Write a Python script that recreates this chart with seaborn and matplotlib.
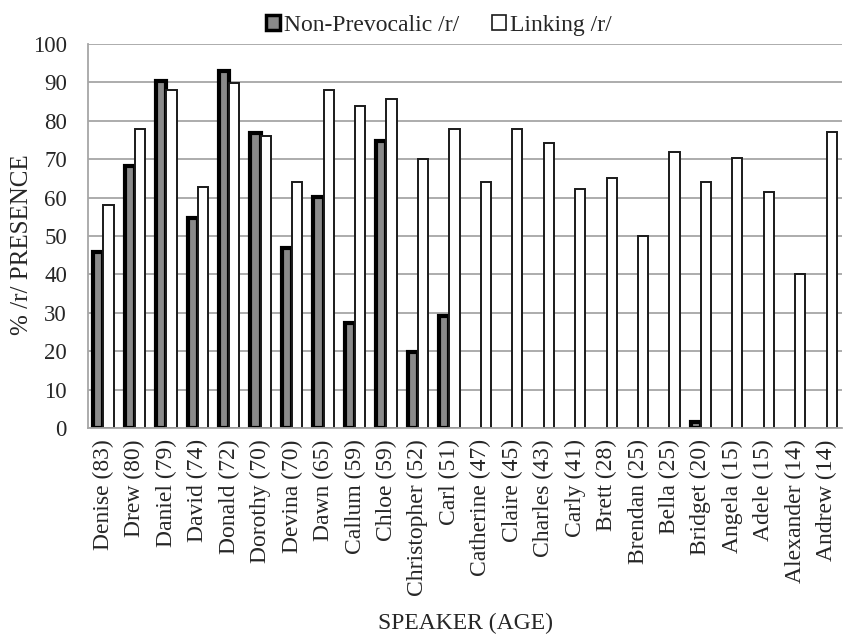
import pandas as pd
import matplotlib.pyplot as plt
import seaborn as sns
from matplotlib.patches import Patch

# données
speakers = ["Denise (83)", "Drew (80)", "Daniel (79)", "David (74)", "Donald (72)",
            "Dorothy (70)", "Devina (70)", "Dawn (65)", "Callum (59)", "Chloe (59)",
            "Christopher (52)", "Carl (51)", "Catherine (47)", "Claire (45)",
            "Charles (43)", "Carly (41)", "Brett (28)", "Brendan (25)", "Bella (25)",
            "Bridget (20)", "Angela (15)", "Adele (15)", "Alexander (14)", "Andrew (14)"]
non_prevocalic = [45.8, 68.2, 90.4, 54.8, 93.0, 76.9, 46.9, 60.2, 27.4, 74.7,
                  19.9, 29.3, 0, 0, 0, 0, 0, 0, 0, 1.5, 0, 0, 0, 0]
linking = [58.1, 78.0, 88.0, 62.9, 89.9, 76.0, 64.0, 88.0, 83.9, 85.8,
           70.0, 77.9, 64.0, 78.0, 74.1, 62.2, 65.2, 50.0, 71.9, 64.0,
           70.4, 61.4, 40.0, 77.2]
series = ["Non-Prevocalic /r/", "Linking /r/"]

df = pd.DataFrame({
    "speaker": speakers * 2,
    "value": non_prevocalic + linking,
    "series": [series[0]] * len(speakers) + [series[1]] * len(speakers),
})

sns.set_style("white")
plt.rcParams["font.family"] = ["Liberation Serif", "DejaVu Serif"]
fs = 17

fig = plt.figure(figsize=(8.44, 6.38), dpi=100)
ax = fig.add_axes([0.104, 0.329, 0.894, 0.602])

sns.barplot(data=df, x="speaker", y="value", hue="series", hue_order=series,
            palette=["#8a8a8a", "white"], width=0.65, gap=0, legend=False, ax=ax)

# bordures : épaisse pour la série 1, fine pour la série 2
for bar in ax.containers[0]:
    bar.set_edgecolor("black")
    bar.set_linewidth(3)
    if bar.get_height() == 0:
        bar.set_visible(False)
for bar in ax.containers[1]:
    bar.set_edgecolor("#1a1a1a")
    bar.set_linewidth(1.4)
    if bar.get_height() == 0:
        bar.set_visible(False)

ax.set_ylim(0, 100)
ax.set_xlim(-0.5, len(speakers) - 0.5)
ax.set_yticks(range(0, 101, 10))
ax.yaxis.grid(True, color="#a6a6a6", linewidth=1.3)
ax.set_axisbelow(True)
for s in ["top", "right"]:
    ax.spines[s].set_visible(False)
for s in ["left", "bottom"]:
    ax.spines[s].set_color("#a6a6a6")
    ax.spines[s].set_linewidth(1.3)

# graduations x entre les catégories (style Excel)
ax.set_xticks([i - 0.5 for i in range(len(speakers) + 1)], minor=True)
ax.tick_params(axis="x", which="minor", length=6, color="#a6a6a6", width=1.2)
ax.tick_params(axis="x", which="major", length=0, pad=8)
ax.tick_params(axis="y", length=7, color="#a6a6a6", width=1.2, labelsize=16.5, pad=8)
ax.set_xticks(range(len(speakers)))
ax.set_xticklabels(speakers, rotation=90, fontsize=fs, ha="center", va="top")

ax.set_xlabel("SPEAKER (AGE)", fontsize=fs, labelpad=12)
ax.set_ylabel("% /r/ PRESENCE", fontsize=18, va="center")
ax.yaxis.set_label_coords(-0.087, 0.477)

handles = [Patch(facecolor="#8a8a8a", edgecolor="black", linewidth=2.5),
           Patch(facecolor="white", edgecolor="#1a1a1a", linewidth=1.2)]
fig.legend(handles, series, loc="upper center", bbox_to_anchor=(0.52, 1.01), ncol=2,
           frameon=False, fontsize=fs, handlelength=0.6, handleheight=0.6,
           handletextpad=0.15, columnspacing=1.4)

fig.savefig("out.png", dpi=100)
